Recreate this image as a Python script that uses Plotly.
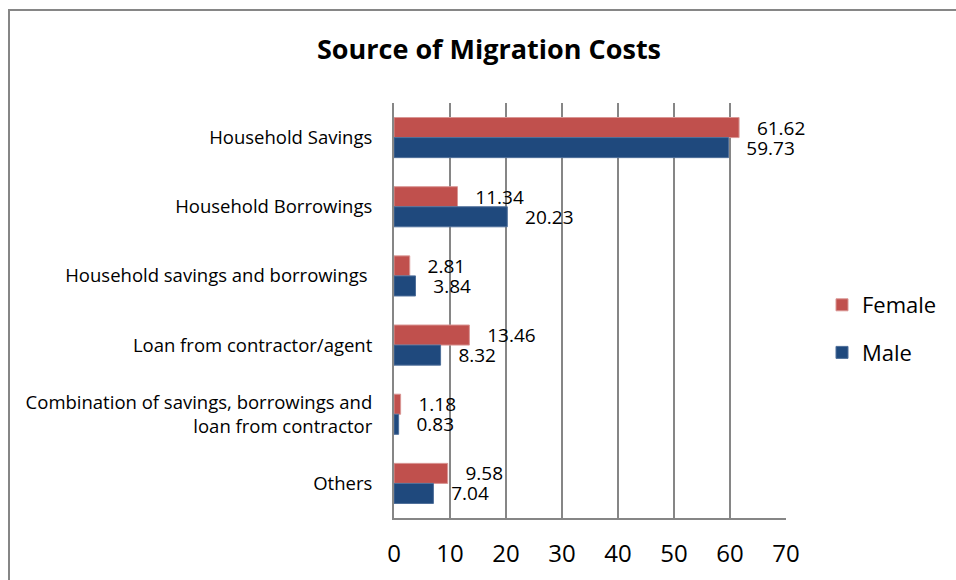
import plotly.graph_objects as go

categories = [
    "Household Savings",
    "Household Borrowings",
    "Household savings and borrowings ",
    "Loan from contractor/agent",
    "Combination of savings, borrowings and<br>loan from contractor",
    "Others",
]
female = [61.62, 11.34, 2.81, 13.46, 1.18, 9.58]
male = [59.73, 20.23, 3.84, 8.32, 0.83, 7.04]
x_ticks = [0, 10, 20, 30, 40, 50, 60, 70]

FONT = "Open Sans"
RED = "#C0504D"
BLUE = "#1F497D"
GRID = "#868686"

fig = go.Figure()
fig.add_trace(go.Bar(
    y=categories, x=female, name="Female", orientation="h",
    marker=dict(color=RED, line=dict(color="#D99694", width=1)),
    text=[f"{v:.2f}" for v in female],
    texttemplate="\u00a0\u00a0\u00a0%{text}", textposition="outside",
    textfont=dict(family=FONT, size=19, color="#000000"),
    constraintext="none", cliponaxis=False, legendgroup="f",
))
fig.add_trace(go.Bar(
    y=categories, x=male, name="Male", orientation="h",
    marker=dict(color=BLUE, line=dict(color="#4F6F9A", width=1)),
    text=[f"{v:.2f}" for v in male],
    texttemplate="\u00a0\u00a0\u00a0%{text}", textposition="outside",
    textfont=dict(family=FONT, size=19, color="#000000"),
    constraintext="none", cliponaxis=False, legendgroup="m",
))

L, R, T, B = 394, 170, 103, 62
W, H = 956, 580
pw, ph = W - L - R, H - T - B

def px2x(p):
    return (p - L) / pw

def px2y(p):
    return (H - B - p) / ph

fig.update_layout(
    width=W, height=H,
    margin=dict(l=L, r=R, t=T, b=B, pad=0, autoexpand=False),
    paper_bgcolor="white", plot_bgcolor="white",
    barmode="group", bargap=0.42, bargroupgap=0,
    font=dict(family=FONT, color="#000000"),
    title=dict(text="<b>Source of Migration Costs</b>", x=489 / W, xanchor="center",
               y=1 - 50 / H, yanchor="middle", font=dict(family=FONT, size=27, color="#000000")),
    showlegend=True,
    legend=dict(x=px2x(822), xanchor="left", y=px2y(329), yanchor="middle",
                font=dict(family=FONT, size=22, color="#000000"),
                tracegroupgap=16, traceorder="grouped", bgcolor="rgba(0,0,0,0)"),
    xaxis=dict(range=[0, 70], tickvals=x_ticks, ticktext=[str(v) for v in x_ticks],
               showgrid=True, gridcolor=GRID, gridwidth=2,
               showline=True, linecolor=GRID, linewidth=2,
               zeroline=False, ticks="", ticklabelstandoff=13, automargin=False,
               tickfont=dict(family=FONT, size=24, color="#000000")),
    yaxis=dict(autorange="reversed", showgrid=False, showline=True,
               linecolor=GRID, linewidth=2, ticks="", ticklabelstandoff=16, automargin=False,
               tickfont=dict(family=FONT, size=18.5, color="#000000")),
    shapes=[
        dict(type="line", xref="paper", yref="paper", x0=px2x(9), x1=px2x(9),
             y0=px2y(585), y1=px2y(10), line=dict(color=GRID, width=2)),
        dict(type="line", xref="paper", yref="paper", x0=px2x(8), x1=px2x(960),
             y0=px2y(10), y1=px2y(10), line=dict(color=GRID, width=2)),
    ],
)

fig.write_html("out.html", config={"displayModeBar": False},
               post_script="document.body.style.margin='0';")
